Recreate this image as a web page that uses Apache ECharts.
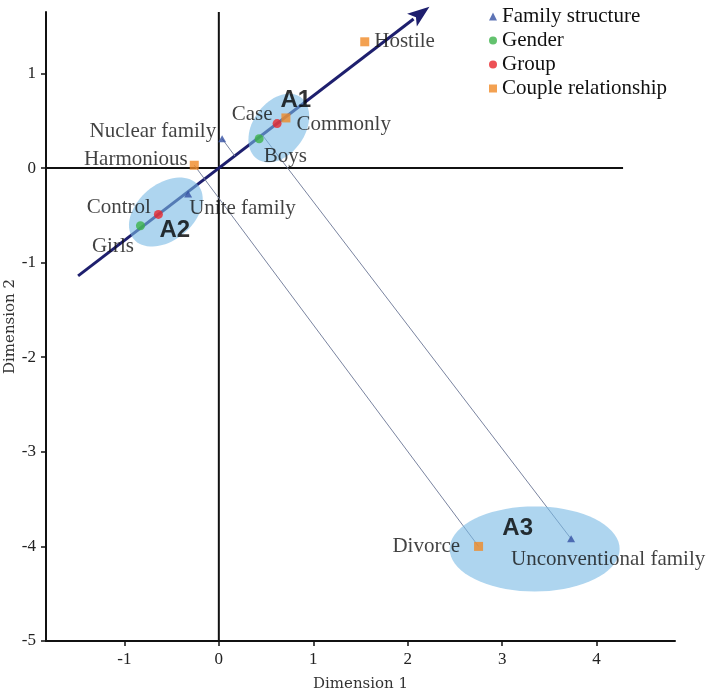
<!DOCTYPE html>
<html>
<head>
<meta charset="utf-8">
<script src="https://cdn.jsdelivr.net/npm/echarts@6/dist/echarts.min.js"></script>
<style>
html,body{margin:0;padding:0;background:#fff;}
#chart{width:709px;height:690px;}
</style>
</head>
<body>
<div id="chart"></div>
<script>
// ---------- data ----------
const X_MIN = -1.83, X_MAX = 4.83, Y_MIN = -5, Y_MAX = 1.65;
const xTicks = [-1, 0, 1, 2, 3, 4];
const yTicks = [-5, -4, -3, -2, -1, 0, 1];

const legendNames = ['Family structure', 'Gender', 'Group', 'Couple relationship'];

const familyNames = ['Nuclear family', 'Unite family', 'Unconventional family'];
const familyX = [0.035, -0.325, 3.73];
const familyY = [0.31, -0.275, -3.92];

const genderNames = ['Boys', 'Girls'];
const genderX = [0.427, -0.83];
const genderY = [0.31, -0.61];

const groupNames = ['Case', 'Control'];
const groupX = [0.617, -0.64];
const groupY = [0.47, -0.49];

const coupleNames = ['Hostile', 'Commonly', 'Harmonious', 'Divorce'];
const coupleX = [1.545, 0.71, -0.26, 2.75];
const coupleY = [1.335, 0.53, 0.03, -4.0];

// main direction arrow: [x1, y1, x2, y2]
const arrowLine = [[-1.49, -1.14, 2.23, 1.705]];
// projection lines: [x1, y1, x2, y2]
const projLines = [
  [0.035, 0.31, 0.17, 0.127],
  [0.46, 0.35, 3.73, -3.92],
  [-0.26, 0.03, 2.75, -4.0]
];
// reference lines at zero: [x1, y1, x2, y2]
const zeroLines = [
  [X_MIN, 0, 4.28, 0],
  [0, Y_MIN, 0, Y_MAX]
];
// clusters: [cx, cy, rx, ry, angleDeg]
const clusterNames = ['A1', 'A2', 'A3'];
const clusterShapes = [
  [0.635, 0.423, 0.40, 0.275, 55],
  [-0.561, -0.465, 0.445, 0.296, 40],
  [3.344, -4.027, 0.90, 0.45, 0]
];
const clusterLabelX = [0.815, -0.466, 3.164];
const clusterLabelY = [0.719, -0.655, -3.805];

// ---------- styles ----------
const SERIF = 'Liberation Serif, Times New Roman, serif';
const labelPlace = {
  'Hostile': {position: 'right', distance: 5, offset: [0, 0]},
  'Commonly': {position: 'right', distance: 6, offset: [0, 7]},
  'Case': {position: 'left', distance: 0, offset: [0, -9]},
  'Boys': {position: 'right', distance: 0, offset: [0, 18]},
  'Nuclear family': {position: 'left', distance: 2, offset: [0, -7]},
  'Harmonious': {position: 'left', distance: 2, offset: [0, -6]},
  'Control': {position: 'left', distance: 3, offset: [0, -7]},
  'Unite family': {position: 'right', distance: 0, offset: [-3, 14]},
  'Girls': {position: 'left', distance: 2, offset: [0, 21]},
  'Divorce': {position: 'left', distance: 14, offset: [0, 0]},
  'Unconventional family': {position: 'bottom', distance: 7, offset: [37, 0]}
};

function buildPoints(names, xs, ys) {
  return names.map((n, i) => ({
    name: n,
    value: [xs[i], ys[i]],
    label: Object.assign({show: true, formatter: '{b}'}, labelPlace[n])
  }));
}

const pointLabel = {show: true, formatter: '{b}', fontFamily: SERIF, fontSize: 21, color: '#111111'};

function segRender(color, width) {
  return function (params, api) {
    const p1 = api.coord([api.value(0), api.value(1)]);
    const p2 = api.coord([api.value(2), api.value(3)]);
    return {
      type: 'line',
      shape: {x1: p1[0], y1: p1[1], x2: p2[0], y2: p2[1]},
      style: {stroke: color, lineWidth: width}
    };
  };
}

const chart = echarts.init(document.getElementById('chart'), null, {renderer: 'canvas'});

const option = {
  animation: false,
  backgroundColor: '#ffffff',
  grid: {left: 46, right: 34, top: 12, bottom: 49, containLabel: false, outerBoundsMode: 'none'},
  legend: {
    orient: 'vertical',
    left: 484,
    top: 1,
    itemWidth: 8,
    itemHeight: 8,
    itemGap: 3,
    textStyle: {fontFamily: SERIF, fontSize: 21, color: '#111111'},
    data: legendNames
  },
  xAxis: {
    type: 'value',
    min: X_MIN,
    max: X_MAX,
    splitLine: {show: false},
    axisLine: {show: true, onZero: false, lineStyle: {color: '#111', width: 2}},
    axisTick: {show: true, inside: false, length: 5, customValues: xTicks, lineStyle: {color: '#111', width: 1.5}},
    axisLabel: {customValues: xTicks, margin: 10, fontFamily: SERIF, fontSize: 17, color: '#222'},
    name: 'Dimension 1',
    nameLocation: 'middle',
    nameMoveOverlap: false,
    nameGap: 36,
    nameTextStyle: {fontFamily: 'DejaVu Serif', fontSize: 15, color: '#333'}
  },
  yAxis: {
    type: 'value',
    min: Y_MIN,
    max: Y_MAX,
    splitLine: {show: false},
    axisLine: {show: true, onZero: false, lineStyle: {color: '#111', width: 2}},
    axisTick: {show: true, inside: false, length: 5, customValues: yTicks, lineStyle: {color: '#111', width: 1.5}},
    axisLabel: {customValues: yTicks, margin: 10, fontFamily: SERIF, fontSize: 17, color: '#222'},
    name: 'Dimension 2',
    nameLocation: 'middle',
    nameMoveOverlap: false,
    nameGap: 28,
    nameTextStyle: {fontFamily: 'DejaVu Serif', fontSize: 15, color: '#333'}
  },
  series: [
    {
      type: 'custom', name: 'zero', z: 1, silent: true, clip: false,
      renderItem: segRender('#111', 2),
      encode: {x: [0, 2], y: [1, 3]},
      data: zeroLines
    },
    {
      type: 'custom', name: 'arrow', z: 2, silent: true, clip: false,
      renderItem: function (params, api) {
        const p1 = api.coord([api.value(0), api.value(1)]);
        const p2 = api.coord([api.value(2), api.value(3)]);
        const dx = p2[0] - p1[0], dy = p2[1] - p1[1];
        const len = Math.sqrt(dx * dx + dy * dy);
        const ux = dx / len, uy = dy / len;
        const hl = 22, hw = 8;
        const bx = p2[0] - ux * hl, by = p2[1] - uy * hl;
        return {
          type: 'group',
          children: [
            {type: 'line', shape: {x1: p1[0], y1: p1[1], x2: bx + ux * 2, y2: by + uy * 2},
             style: {stroke: '#1e1f6e', lineWidth: 3}},
            {type: 'polygon', shape: {points: [[p2[0], p2[1]], [bx - uy * hw, by + ux * hw], [bx + ux * 5, by + uy * 5], [bx + uy * hw, by - ux * hw]]},
             style: {fill: '#1e1f6e'}}
          ]
        };
      },
      encode: {x: [0, 2], y: [1, 3]},
      data: arrowLine
    },
    {
      type: 'custom', name: 'proj', z: 2, silent: true, clip: false,
      renderItem: segRender('#7a84a0', 1),
      encode: {x: [0, 2], y: [1, 3]},
      data: projLines
    },
    {
      type: 'custom', name: 'clusters', z: 3, silent: true, clip: false,
      renderItem: function (params, api) {
        const c = api.coord([api.value(0), api.value(1)]);
        const s = api.size([1, 1]);
        const rx = api.value(2) * s[0], ry = api.value(3) * s[1];
        const th = api.value(4) * Math.PI / 180;
        const pts = [];
        for (let k = 0; k < 72; k++) {
          const t = k / 72 * Math.PI * 2;
          const u = rx * Math.cos(t), v = ry * Math.sin(t);
          pts.push([c[0] + u * Math.cos(th) - v * Math.sin(th), c[1] - (u * Math.sin(th) + v * Math.cos(th))]);
        }
        return {type: 'polygon', shape: {points: pts}, style: {fill: 'rgba(120,185,228,0.6)'}};
      },
      encode: {x: 0, y: 1},
      data: clusterShapes
    },
    {
      type: 'scatter', name: 'Family structure', z: 5,
      symbol: 'triangle', symbolSize: [8, 7],
      itemStyle: {color: '#3550a3'},
      label: pointLabel,
      data: buildPoints(familyNames, familyX, familyY)
    },
    {
      type: 'scatter', name: 'Gender', z: 5,
      symbol: 'circle', symbolSize: 9,
      itemStyle: {color: '#3cb34a'},
      label: pointLabel,
      data: buildPoints(genderNames, genderX, genderY)
    },
    {
      type: 'scatter', name: 'Group', z: 5,
      symbol: 'circle', symbolSize: 9,
      itemStyle: {color: '#e8262b'},
      label: pointLabel,
      data: buildPoints(groupNames, groupX, groupY)
    },
    {
      type: 'scatter', name: 'Couple relationship', z: 5,
      symbol: 'rect', symbolSize: 9,
      itemStyle: {color: '#f08a26'},
      label: pointLabel,
      data: buildPoints(coupleNames, coupleX, coupleY)
    },
    {
      type: 'scatter', name: 'clusterLabels', z: 6, silent: true,
      symbolSize: 1,
      itemStyle: {color: 'rgba(0,0,0,0)'},
      label: {show: true, position: 'inside', formatter: '{b}',
              fontFamily: 'Liberation Sans, Arial, sans-serif', fontWeight: 'bold', fontSize: 24, color: '#000'},
      data: clusterNames.map((n, i) => ({name: n, value: [clusterLabelX[i], clusterLabelY[i]]}))
    }
  ]
};
chart.setOption(option);
</script>
</body>
</html>
